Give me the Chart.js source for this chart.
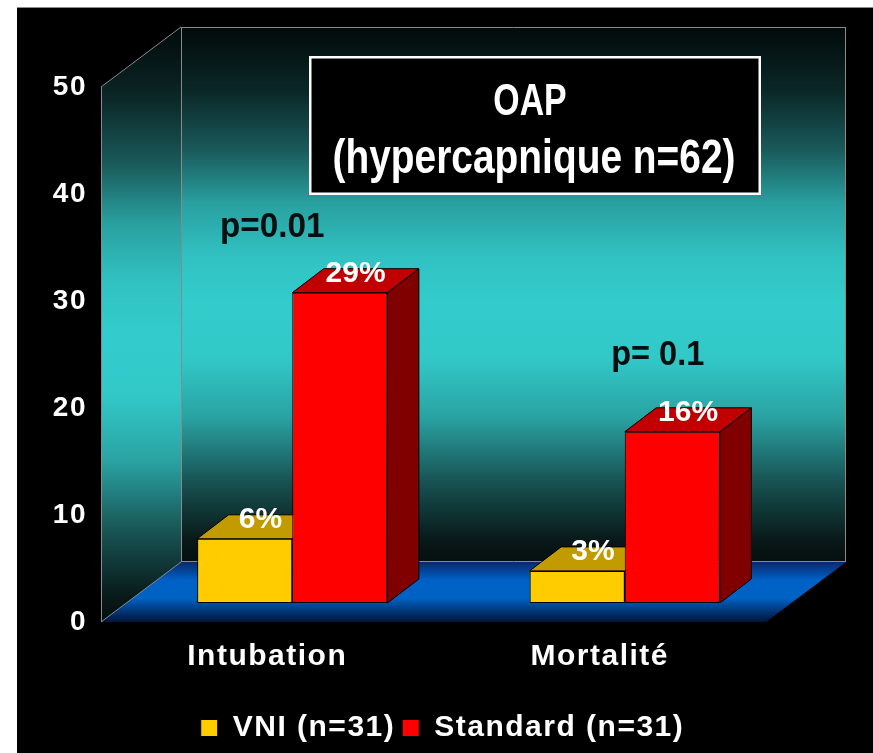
<!DOCTYPE html>
<html>
<head>
<meta charset="utf-8">
<style>
  html, body { margin: 0; padding: 0; background: #ffffff; overflow: hidden; }
  #c { display: block; }
</style>
<script src="https://cdn.jsdelivr.net/npm/chart.js@4.4.1/dist/chart.umd.min.js"></script>
</head>
<body>
<canvas id="c" width="873" height="753"></canvas>
<script>
// ---------------- data ----------------
const categories = ['Intubation', 'Mortalité'];
const seriesNames = ['VNI (n=31)', 'Standard (n=31)'];
const vniValues = [6, 3];
const standardValues = [29, 16];
const yTickValues = [0, 10, 20, 30, 40, 50];
const titleLines = ['OAP', '(hypercapnique n=62)'];
const pValueLabels = ['p=0.01', 'p= 0.1'];

// ---------------- styles / geometry ----------------
const FONT = '"Liberation Sans", Arial, Helvetica, sans-serif';
const DEPTH_X = 80, DEPTH_Y = -60;        // depth of the walls / floor
const BAR_SHIFT_X = 25, BAR_SHIFT_Y = -19; // bars stand inside the floor
const BAR_DX = 31.5, BAR_DY = -24;         // depth of each bar
const LEGEND_SHIFT = 9;
const faceColors = [
  { front: '#FFCC00', top: '#C29B00', side: '#8A6E00' },
  { front: '#FF0000', top: '#C00000', side: '#800000' }
];
const wallStops = [
  [0.00, '#020a0a'], [0.12, '#0b2727'], [0.23, '#1a5a5a'], [0.33, '#29a0a0'],
  [0.43, '#31c2c2'], [0.52, '#33cccc'], [0.62, '#32c8c8'], [0.73, '#2aa2a2'],
  [0.85, '#185252'], [0.96, '#081818'], [1.00, '#050f0f']
];

function poly(ctx, pts, fill, stroke) {
  ctx.beginPath();
  ctx.moveTo(pts[0][0], pts[0][1]);
  for (let i = 1; i < pts.length; i++) ctx.lineTo(pts[i][0], pts[i][1]);
  ctx.closePath();
  if (fill) { ctx.fillStyle = fill; ctx.fill(); }
  if (stroke) { ctx.strokeStyle = stroke; ctx.lineWidth = 1; ctx.stroke(); }
}
function line(ctx, x0, y0, x1, y1, color) {
  ctx.beginPath(); ctx.moveTo(x0, y0); ctx.lineTo(x1, y1);
  ctx.strokeStyle = color; ctx.lineWidth = 1; ctx.stroke();
}
function condensedText(ctx, text, cx, y, size, sx, color) {
  ctx.save();
  ctx.letterSpacing = '0px';
  ctx.font = 'bold ' + size + 'px ' + FONT;
  ctx.fillStyle = color;
  ctx.textAlign = 'center';
  ctx.textBaseline = 'alphabetic';
  ctx.translate(cx, y);
  ctx.scale(sx, 1);
  ctx.fillText(text, 0, 0);
  ctx.restore();
}

const scenePlugin = {
  id: 'scene',
  beforeLayout(chart) {
    chart.ctx.letterSpacing = '1.5px';
  },
  afterLayout(chart) {
    if (chart.legend) {
      chart.legend.left += LEGEND_SHIFT;
      chart.legend.right += LEGEND_SHIFT;
    }
  },
  beforeDraw(chart) {
    const ctx = chart.ctx, a = chart.chartArea;
    ctx.save();
    ctx.letterSpacing = '0px';
    ctx.fillStyle = '#ffffff';
    ctx.fillRect(0, 0, chart.width, chart.height);
    ctx.fillStyle = '#000000';
    ctx.fillRect(17, 7, chart.width - 17, chart.height - 7);
    line(ctx, 17, 7.5, chart.width, 7.5, '#8c8c8c');

    const L = a.left, R = a.right, T = a.top, B = a.bottom;
    const bl = L + DEPTH_X, br = R + DEPTH_X, bt = T + DEPTH_Y, bb = B + DEPTH_Y;

    const grad = (y0, y1) => {
      const g = ctx.createLinearGradient(0, y0, 0, y1);
      wallStops.forEach(s => g.addColorStop(s[0], s[1]));
      return g;
    };
    // back wall
    poly(ctx, [[bl, bt], [br, bt], [br, bb], [bl, bb]], grad(bt, bb));
    // left wall
    poly(ctx, [[L, T], [bl, bt], [bl, bb], [L, B]], grad(bt, B));
    // floor
    const fg = ctx.createLinearGradient(0, bb, 0, B);
    fg.addColorStop(0, '#072a6c');
    fg.addColorStop(0.3, '#0060c6');
    fg.addColorStop(0.6, '#0062c4');
    fg.addColorStop(0.85, '#00306e');
    fg.addColorStop(1, '#001638');
    poly(ctx, [[L, B], [bl, bb], [br, bb], [R, B]], fg);

    // edges
    const ec = '#8a8a8a';
    line(ctx, L + 0.5, T, L + 0.5, B, ec);
    line(ctx, L, T, bl, bt, ec);
    line(ctx, bl, bt + 0.5, br, bt + 0.5, ec);
    line(ctx, br - 0.5, bt, br - 0.5, bb, ec);
    line(ctx, bl + 0.5, bt, bl + 0.5, bb, ec);
    line(ctx, bl, bb - 0.5, br, bb - 0.5, ec);
    line(ctx, L, B, bl, bb, ec);
    ctx.restore();
    ctx.letterSpacing = '1.5px';
  },
  beforeDatasetsDraw(chart) {
    const ctx = chart.ctx;
    ctx.save();
    ctx.translate(BAR_SHIFT_X, BAR_SHIFT_Y);
    chart.data.datasets.forEach((ds, di) => {
      const meta = chart.getDatasetMeta(di);
      const c = faceColors[di];
      meta.data.forEach(bar => {
        const p = bar.getProps(['x', 'y', 'base', 'width'], true);
        const x0 = p.x - p.width / 2, x1 = p.x + p.width / 2;
        poly(ctx, [[x1, p.y], [x1 + BAR_DX, p.y + BAR_DY], [x1 + BAR_DX, p.base + BAR_DY], [x1, p.base]], c.side, '#000');
        poly(ctx, [[x0, p.y], [x1, p.y], [x1 + BAR_DX, p.y + BAR_DY], [x0 + BAR_DX, p.y + BAR_DY]], c.top, '#000');
      });
    });
    // translation stays active while Chart.js draws the bar fronts
  },
  afterDatasetsDraw(chart) {
    const ctx = chart.ctx;
    // value labels (still in translated bar space)
    ctx.save();
    ctx.letterSpacing = '0px';
    ctx.font = 'bold 30px ' + FONT;
    ctx.fillStyle = '#ffffff';
    ctx.textAlign = 'center';
    ctx.textBaseline = 'alphabetic';
    chart.data.datasets.forEach((ds, di) => {
      const meta = chart.getDatasetMeta(di);
      meta.data.forEach((bar, i) => {
        const p = bar.getProps(['x', 'y'], true);
        ctx.fillText(ds.data[i] + '%', p.x + BAR_DX / 2, p.y + BAR_DY / 2 + 1);
      });
    });
    ctx.restore();
    ctx.restore(); // end of bar translation

    // title box
    ctx.save();
    ctx.fillStyle = '#000000';
    ctx.fillRect(309, 56, 452, 139);
    ctx.strokeStyle = '#ffffff';
    ctx.lineWidth = 2.5;
    ctx.strokeRect(310.25, 57.25, 449.5, 136.5);
    ctx.restore();
    condensedText(ctx, titleLines[0], 530, 115, 44, 0.77, '#ffffff');
    condensedText(ctx, titleLines[1], 534, 173, 48, 0.81, '#ffffff');

    // p-values above each group
    const xs = chart.scales.x;
    const pPos = [
      { dx: 5, y: 237, sx: 0.95 },
      { dx: 58, y: 365, sx: 0.93 }
    ];
    pValueLabels.forEach((t, i) => {
      condensedText(ctx, t, xs.getPixelForValue(i) + pPos[i].dx, pPos[i].y, 35, pPos[i].sx, '#050f0f');
    });
    ctx.letterSpacing = '1.5px';
  }
};

new Chart(document.getElementById('c'), {
  type: 'bar',
  data: {
    labels: categories,
    datasets: [
      {
        label: seriesNames[0], data: vniValues,
        backgroundColor: faceColors[0].front, borderColor: '#000000',
        borderWidth: 1, borderSkipped: false, clip: false
      },
      {
        label: seriesNames[1], data: standardValues,
        backgroundColor: faceColors[1].front, borderColor: '#000000',
        borderWidth: 1, borderSkipped: false, clip: false
      }
    ]
  },
  options: {
    responsive: false,
    devicePixelRatio: 1,
    animation: false,
    events: [],
    layout: { padding: { left: 0, right: 107, top: 87, bottom: 0 } },
    datasets: { bar: { barPercentage: 1.0, categoryPercentage: 0.572 } },
    scales: {
      x: {
        grid: { display: false, drawTicks: false },
        border: { display: false },
        ticks: { color: '#ffffff', font: { family: FONT, size: 30, weight: 'bold' }, padding: 17 },
        afterFit(scale) { scale.height = 84; }
      },
      y: {
        min: 0, max: 50,
        afterBuildTicks(scale) { scale.ticks = yTickValues.map(v => ({ value: v })); },
        grid: { display: false, drawTicks: false },
        border: { display: false },
        ticks: { color: '#ffffff', font: { family: FONT, size: 28, weight: 'bold' }, padding: 14 },
        afterFit(scale) { scale.width = 101; }
      }
    },
    plugins: {
      legend: {
        position: 'bottom',
        fullSize: false,
        labels: {
          color: '#ffffff',
          font: { family: FONT, size: 30, weight: 'bold' },
          boxWidth: 17, boxHeight: 17, padding: 7
        }
      },
      tooltip: { enabled: false },
      title: { display: false }
    }
  },
  plugins: [scenePlugin]
});
</script>
</body>
</html>
